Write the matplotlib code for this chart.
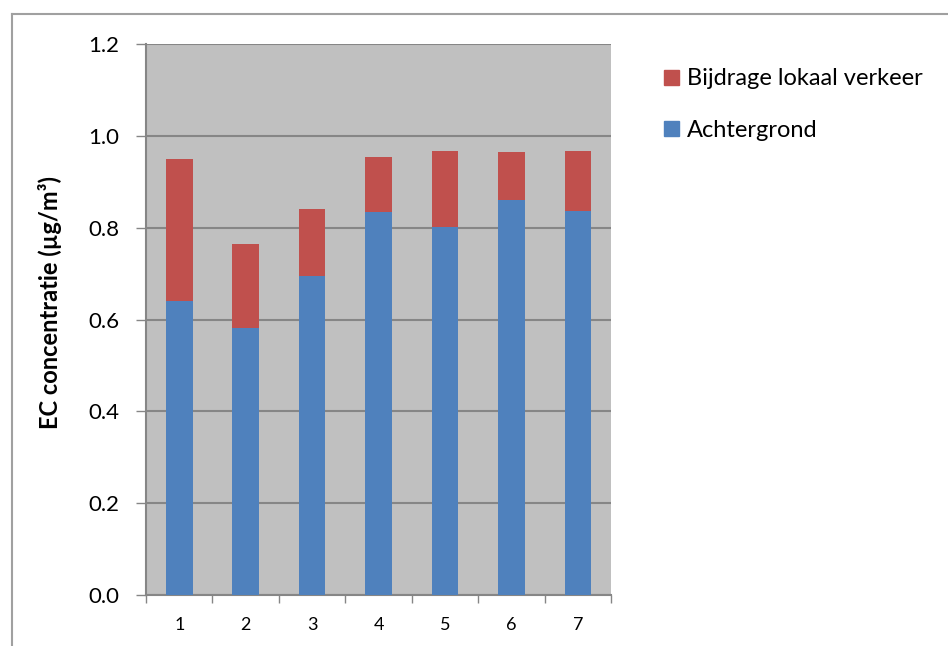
import numpy as np
import matplotlib.pyplot as plt
from matplotlib.lines import Line2D
from matplotlib.patches import Patch

plt.rcParams['font.family'] = ['Lato', 'DejaVu Sans']

locaties = ['1', '2', '3', '4', '5', '6', '7']
achtergrond = [0.641, 0.581, 0.694, 0.834, 0.802, 0.861, 0.836]
totaal = [0.950, 0.764, 0.841, 0.954, 0.967, 0.965, 0.966]
lokaal = [t - a for t, a in zip(totaal, achtergrond)]

blauw = '#4F81BD'
rood = '#C0504D'
grijs = '#868686'

fig = plt.figure(figsize=(9.48, 6.46), dpi=100)
ax = fig.add_axes([146/948, 1-595/646, (611-146)/948, (595-44)/646])
ax.set_facecolor('#C0C0C0')

x = np.arange(len(locaties))
ax.bar(x, achtergrond, 0.4, color=blauw, zorder=3)
ax.bar(x, lokaal, 0.4, bottom=achtergrond, color=rood, zorder=3)

ax.set_xlim(-0.5, len(locaties) - 0.5)
ax.set_ylim(0, 1.2)
yt = np.arange(0, 1.21, 0.2)
ax.set_yticks(yt)
ax.set_yticklabels(['%.1f' % v for v in yt], fontsize=16)
ax.yaxis.grid(True, color=grijs, linewidth=1.5, zorder=1)
ax.set_axisbelow(True)

ax.set_xticks(x)
ax.set_xticklabels(locaties, fontsize=13)
ax.set_xticks(np.arange(-0.5, len(locaties)), minor=True)
ax.tick_params(axis='x', which='major', length=0, pad=16)
ax.tick_params(axis='x', which='minor', length=6, color=grijs, width=1)
ax.tick_params(axis='y', length=7, color=grijs, width=1, pad=12)

for s in ['top', 'right']:
    ax.spines[s].set_visible(False)
for s in ['left', 'bottom']:
    ax.spines[s].set_color(grijs)
    ax.spines[s].set_linewidth(1.5)

ax.set_ylabel('EC concentratie (µg/m³)', fontsize=17, fontweight='bold')
ax.yaxis.set_label_coords(-0.18, 0.53)

handles = [Patch(color=rood), Patch(color=blauw)]
fig.legend(handles, ['Bijdrage lokaal verkeer', 'Achtergrond'],
           loc='upper left', bbox_to_anchor=(655/948, 1-59/646), frameon=False,
           fontsize=17, handlelength=0.6, handleheight=0.6, handletextpad=0.35,
           labelspacing=1.3, borderaxespad=0)

# rand van het diagram
fig.add_artist(Line2D([12/948, 12/948], [0, 1-14/646], color='#A0A0A0', lw=1.5))
fig.add_artist(Line2D([12/948, 1], [1-14/646, 1-14/646], color='#A0A0A0', lw=1.5))

fig.savefig('out.png', dpi=100)
